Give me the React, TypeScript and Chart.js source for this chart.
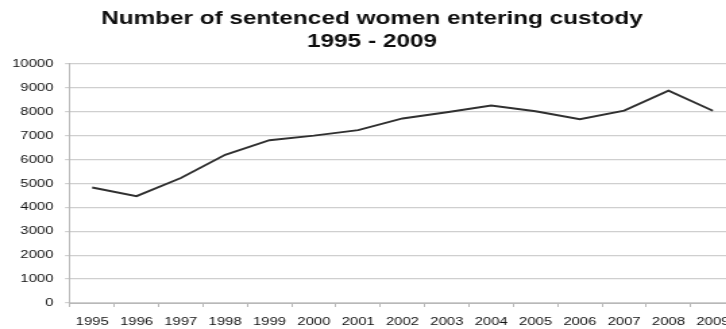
import React, { useEffect, useRef } from "react";
import { Chart, registerables } from "chart.js";

Chart.register(...registerables);

const years = ["1995", "1996", "1997", "1998", "1999", "2000", "2001", "2002", "2003", "2004", "2005", "2006", "2007", "2008", "2009"];
const womenEnteringCustody = [4830, 4470, 5230, 6200, 6810, 7000, 7230, 7720, 7980, 8260, 8020, 7690, 8050, 8880, 8040];
const titleLines = ["Number of sentenced women entering custody", "1995 - 2009"];
const yMin = 0;
const yMax = 10000;
const yStep = 1000;

// The reference image is horizontally stretched: draw on a narrower canvas and stretch it with CSS.
const CSS_W = 745;
const CSS_H = 329;
const CANVAS_W = 552;
const S = CSS_W / CANVAS_W;

const FONT = "'Liberation Sans', Arial, Helvetica, sans-serif";

export default function App() {
  const ref = useRef<HTMLCanvasElement | null>(null);

  useEffect(() => {
    if (!ref.current) return;
    const chart = new Chart(ref.current, {
      type: "line",
      data: {
        labels: years,
        datasets: [
          {
            label: "Sentenced women entering custody",
            data: womenEnteringCustody,
            borderColor: "#303030",
            borderWidth: 1.9,
            pointRadius: 0,
            tension: 0,
            fill: false,
          },
        ],
      },
      options: {
        responsive: false,
        animation: false,
        devicePixelRatio: 1,
        layout: {
          padding: { left: 9 / S, right: 10 / S, top: 0, bottom: 0.4 },
        },
        plugins: {
          legend: { display: false },
          tooltip: { enabled: false },
          title: {
            display: true,
            text: titleLines,
            color: "#0d0d0d",
            font: { family: FONT, size: 18, weight: "bold", lineHeight: 1.26 },
            padding: { top: 8, bottom: 10.6 },
          },
        },
        scales: {
          x: {
            offset: true,
            afterFit: (scale: any) => {
              scale.height = 25.6;
            },
            grid: {
              display: true,
              drawOnChartArea: false,
              drawTicks: true,
              tickLength: 4,
              offset: true,
              color: "#b8b8b8",
              lineWidth: 1,
            },
            border: { display: true, color: "#b8b8b8", width: 1 },
            ticks: {
              color: "#111111",
              font: { family: FONT, size: 11 },
              padding: 8.4,
              maxRotation: 0,
              autoSkip: false,
            },
          },
          y: {
            min: yMin,
            max: yMax,
            afterFit: (scale: any) => {
              scale.width = 61 / S;
            },
            grid: {
              color: "#cfcfcf",
              lineWidth: 1.2,
              tickLength: 5 / S,
            },
            border: { display: true, color: "#b8b8b8", width: 1 },
            ticks: {
              stepSize: yStep,
              color: "#111111",
              font: { family: FONT, size: 11 },
              padding: 8.6,
              callback: (v: any) => String(v),
            },
          },
        },
      },
    });
    return () => chart.destroy();
  }, []);

  return (
    <div
      style={{
        position: "absolute",
        left: 0,
        top: 0,
        width: 726,
        height: CSS_H,
        overflow: "hidden",
        background: "#ffffff",
      }}
    >
      <canvas
        ref={ref}
        width={CANVAS_W}
        height={CSS_H}
        style={{ width: CSS_W + "px", height: CSS_H + "px", display: "block" }}
      />
    </div>
  );
}
